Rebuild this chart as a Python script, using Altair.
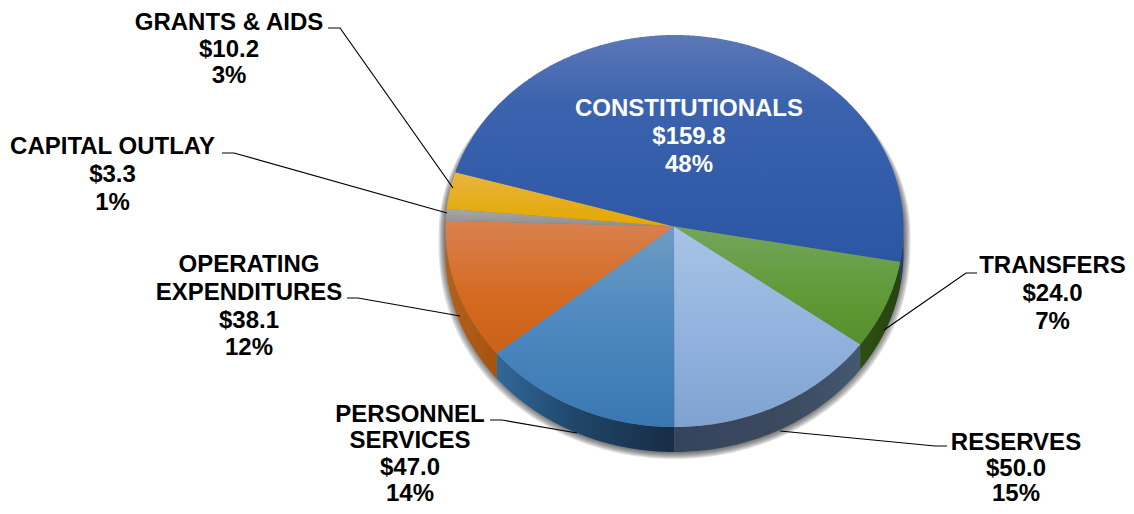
import numpy as np
import pandas as pd
import altair as alt

# ---- data
labels = ["PERSONNEL\nSERVICES", "OPERATING\nEXPENDITURES", "CAPITAL OUTLAY", "GRANTS & AIDS",
          "CONSTITUTIONALS", "TRANSFERS", "RESERVES"]
values = [47.0, 38.1, 3.3, 10.2, 159.8, 24.0, 50.0]
percents = [14, 12, 1, 3, 48, 7, 15]

# label anchors: centre x, first-line baseline y, line spacing
label_x = [410, 249, 112.5, 229, 689, 1052.5, 1016]
label_y = [422, 272, 154, 30, 116, 273, 450]
label_lh = [26.3, 27.8, 27.8, 26.6, 27.8, 27.8, 25.5]
label_color = ["#000000"] * 4 + ["#ffffff"] + ["#000000"] * 2

leaders = [
    [(490, 420), (502, 420), (577, 433)],
    [(347, 298), (358, 298), (460, 316)],
    [(222, 153), (234, 153), (447, 213)],
    [(328, 28), (340, 28), (453, 188)],
    None,
    [(977, 273), (966, 273), (884, 330)],
    [(947, 446), (935, 446), (780, 431)],
]

top_stops = [
    [("#6f9bc4", 0), ("#4f8ac0", .45), ("#3a77b2", 1)],
    [("#d98150", 0), ("#d4691f", .6), ("#c9621a", 1)],
    [("#a8a8a8", 0), ("#8e8e8e", 1)],
    [("#e8b540", 0), ("#e4a700", 1)],
    [("#5c78b6", 0), ("#3b63ae", .3), ("#2b56a3", 1)],
    [("#74a65c", 0), ("#5e9a35", .6), ("#568f2f", 1)],
    [("#a8c3e6", 0), ("#93b4df", .5), ("#7fa2d0", 1)],
]
side_stops = [
    [("#30689a", 0), ("#1f4668", .45), ("#182c46", 1)],
    [("#b3621c", 0), ("#a5530f", 1)],
    None,
    None,
    [("#1f3a6e", 0), ("#1f3a6e", 1)],
    [("#2d4f14", 0), ("#264410", 1)],
    [("#35445a", 0), ("#3b4a5f", .6), ("#44586f", 1)],
]

# ---- pie geometry
CX, CY, RX, RY_TOP, RY_BOT, DEPTH = 674.5, 228, 229, 193, 199, 25
APEX = (674, 226.5)
W, H = 1118, 498
xs = alt.Scale(domain=[8, 8 + W], range=[0, W], nice=False, zero=False)
ys = alt.Scale(domain=[8, 8 + H], range=[0, H], nice=False, zero=False)


def rim(theta):
    t = np.radians(theta)
    ry = np.where(np.cos(t) >= 0, RY_BOT, RY_TOP)
    return CX - RX * np.sin(t), CY + ry * np.cos(t)


def grad(stops, horizontal=False):
    return alt.LinearGradient(
        gradient="linear",
        x1=0, y1=0,
        x2=1 if horizontal else 0,
        y2=0 if horizontal else 1,
        stops=[alt.GradientStop(color=c, offset=o) for c, o in stops],
    )


def poly(px, py, fill, opacity=1.0):
    df = pd.DataFrame({"x": px, "y": py, "i": np.arange(len(px))})
    return alt.Chart(df).mark_line(
        interpolate="linear-closed", fill=fill, strokeWidth=0, fillOpacity=opacity
    ).encode(
        x=alt.X("x:Q", scale=xs, axis=None),
        y=alt.Y("y:Q", scale=ys, axis=None),
        order="i:Q",
    )


layers = []

# soft shadow round the body
for d in [7, 6, 5, 4, 3, 2, 1]:
    th = np.arange(0, 361, 2.0)
    px, py = rim(th)
    px = CX + (px - CX) * (RX + d) / RX
    py = py + np.where(np.cos(np.radians(th)) >= 0, DEPTH * np.cos(np.radians(th)) ** 0.25 + d, 6 + 0 * th)
    layers.append(poly(px, py, "#303030", 0.13))

# cumulative angles, clockwise from the bottom
edges = np.concatenate([[0], np.cumsum(values)]) / np.sum(values) * 360

# sides
for k in range(len(values)):
    if side_stops[k] is None:
        continue
    a, b = edges[k], edges[k + 1]
    if k == 1:
        b = 91
    if k == 4:
        a = 269
    th = np.linspace(a, b, 60)
    px, py = rim(th)
    layers.append(poly(np.r_[px, px[::-1]], np.r_[py, py[::-1] + DEPTH], grad(side_stops[k], True)))

# top faces
for k in range(len(values)):
    th = np.linspace(edges[k], edges[k + 1], max(4, int(edges[k + 1] - edges[k]) * 2))
    px, py = rim(th)
    layers.append(poly(np.r_[APEX[0], px], np.r_[APEX[1], py], grad(top_stops[k])))

# leader lines
for seg in leaders:
    if seg is None:
        continue
    df = pd.DataFrame(seg, columns=["x", "y"]).assign(i=range(len(seg)))
    layers.append(alt.Chart(df).mark_line(color="#000000", strokeWidth=1.2).encode(
        x=alt.X("x:Q", scale=xs, axis=None), y=alt.Y("y:Q", scale=ys, axis=None), order="i:Q"))

# labels
rows = []
for name, v, p, x0, y0, lh, col in zip(labels, values, percents, label_x, label_y, label_lh, label_color):
    lines = name.split("\n") + [f"${v:.1f}", f"{p}%"]
    for j, t in enumerate(lines):
        rows.append({"x": x0, "y": y0 + j * lh, "t": t, "c": col})
layers.append(alt.Chart(pd.DataFrame(rows)).mark_text(
    font="Liberation Sans", fontWeight="bold", fontSize=24, align="center", baseline="alphabetic"
).encode(
    x=alt.X("x:Q", scale=xs, axis=None), y=alt.Y("y:Q", scale=ys, axis=None),
    text="t:N", color=alt.Color("c:N", scale=None),
))

chart = alt.layer(*layers).resolve_scale(x="shared", y="shared").properties(
    width=W, height=H, padding=0, background="#ffffff",
    autosize=alt.AutoSizeParams(type="none"),
).configure_view(stroke=None)
chart.save("out.html", embed_options={"renderer": "svg", "actions": False})
